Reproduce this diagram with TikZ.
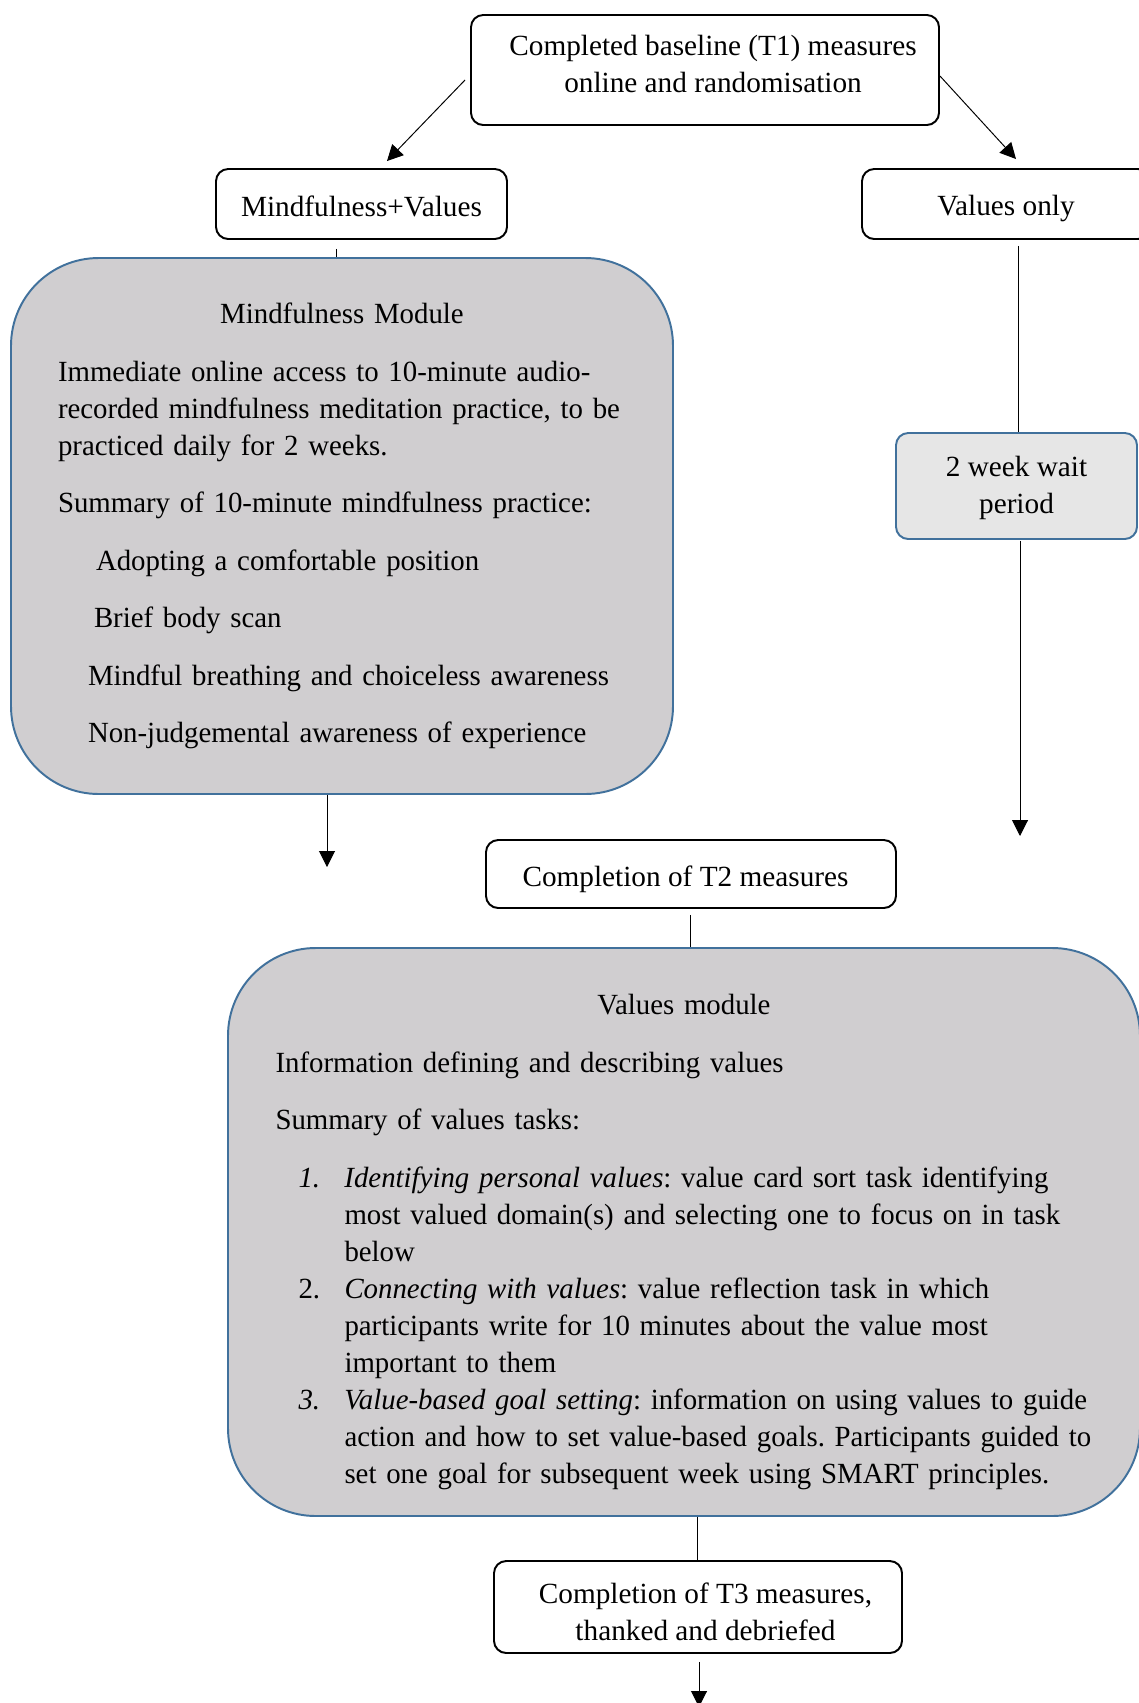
\documentclass[tikz,border=0pt]{standalone}
\usepackage{fontspec}
\setmainfont{Liberation Serif}
\usetikzlibrary{arrows.meta,calc}
\newlength\px
\setlength\px{0.41pt}
\definecolor{modfill}{RGB}{208,206,208}
\definecolor{modline}{RGB}{65,113,156}
\definecolor{waitfill}{RGB}{230,230,230}

\begin{document}
\begin{tikzpicture}[x=0.41pt, y=-0.41pt,
        font=\fontsize{12pt}{15.17pt}\selectfont,
        box/.style={draw, line width=0.8pt, rounded corners=5pt, inner sep=0pt},
        boxtext/.style={align=center, inner sep=0pt},
        module/.style={draw=modline, fill=modfill, line width=0.8pt, rounded corners=36pt, inner sep=0pt},
        link/.style={line width=0.4pt},
        arr/.style={line width=0.4pt, -{Triangle[length=6.5pt,width=6.5pt]}}]
    \useasboundingbox (0,0) rectangle (1139,1703);

    \node[box, minimum width=468\px, minimum height=110\px,
        label={[boxtext, name=basetxt, xshift=8\px, yshift=6.5\px]center:Completed baseline (T1) measures\\online and randomisation}] (base) at (705,70) {};
    \node[box, minimum width=291\px, minimum height=70\px,
        label={[boxtext, name=mvtxt, yshift=-2\px]center:Mindfulness+Values}] (mv) at (361.5,204) {};
    \node[box, minimum width=288\px, minimum height=70\px,
        label={[boxtext, name=votxt, yshift=-4\px]center:Values only}] (vo) at (1006,204) {};
    \node[box, draw=modline, fill=waitfill, minimum width=241\px, minimum height=106\px,
        label={[boxtext, name=waittxt, yshift=-2\px]center:2 week wait\\period}] (wait) at (1016.5,486) {};

    \node[module, minimum width=662\px, minimum height=536\px, text width=568\px] (mm) at (342,526) {%
        \addfontfeature{FakeStretch=0.985}\frenchspacing
        \parindent=0pt \parskip=8.4pt
        {\centering Mindfulness Module\par}
        \raggedright
        Immediate online access to 10-minute audio-\newline recorded mindfulness meditation practice, to be\newline practiced daily for 2 weeks.\par
        Summary of 10-minute mindfulness practice:\par
        \hspace*{38\px}Adopting a comfortable position\par
        \hspace*{36\px}Brief body scan\par
        \hspace*{30\px}Mindful breathing and choiceless awareness\par
        \hspace*{30\px}Non-judgemental awareness of experience\par};

    \node[box, minimum width=410\px, minimum height=68\px,
        label={[boxtext, name=t2txt, xshift=-5.5\px, yshift=-5\px]center:Completion of T2 measures}] (t2) at (691,874) {};

    \node[module, minimum width=912\px, minimum height=568\px, text width=817\px] (vm) at (684,1232) {%
        \addfontfeature{FakeStretch=0.985}\frenchspacing
        \parindent=0pt \parskip=8.4pt
        {\centering\rule{0pt}{40\px}Values module\par}
        \raggedright
        Information defining and describing values\par
        Summary of values tasks:\par
        \hangindent=69\px \hangafter=1
        \hspace*{23\px}\makebox[46\px][l]{\textit{1.}}\textit{Identifying personal values}: value card sort task identifying\newline most valued domain(s) and selecting one to focus on in task\newline below\par
        \parskip=0pt
        \hangindent=69\px \hangafter=1
        \hspace*{23\px}\makebox[46\px][l]{2.}\textit{Connecting with values}: value reflection task in which\newline participants write for 10 minutes about the value most\newline important to them\par
        \hangindent=69\px \hangafter=1
        \hspace*{23\px}\makebox[46\px][l]{\textit{3.}}\textit{Value-based goal setting}: information on using values to guide\newline action and how to set value-based goals. Participants guided to\newline set one goal for subsequent week using SMART principles.\par};

    \node[box, minimum width=408\px, minimum height=92\px,
        label={[boxtext, name=t3txt, xshift=7.5\px, yshift=-4.5\px]center:Completion of T3 measures,\\thanked and debriefed}] (t3) at (698,1607) {};

    \coordinate (mmout) at (327,867);
    \coordinate (waitout) at (1020,836);
    \coordinate (t3out) at (699,1707);

    \draw[arr] ($(base.west)+(-5,10)$) -- ($(mv.north)+(25.5,-7)$);
    \draw[arr] ($(base.east)+(0,6)$) -- ($(vo.north)+(10,-9)$);
    \draw[link] ($(mv.south)+(-25.5,9)$) -- ($(mm.north)+(-6,0)$);
    \draw[arr] (mm.south -| mmout) -- (mmout);
    \draw[link] ($(vo.south)+(12,6)$) -- ($(wait.north)+(1.5,0)$);
    \draw[arr] ($(wait.south -| waitout)+(0,1)$) -- (waitout);
    \draw[link] ($(t2.south)+(-1,6)$) -- ($(vm.north)+(6,0)$);
    \draw[link] ($(vm.south)+(13,0)$) -- ($(t3.north)+(-1,0)$);
    \draw[arr] ($(t3.south -| t3out)+(0,8)$) -- (t3out);
\end{tikzpicture}
\end{document}
